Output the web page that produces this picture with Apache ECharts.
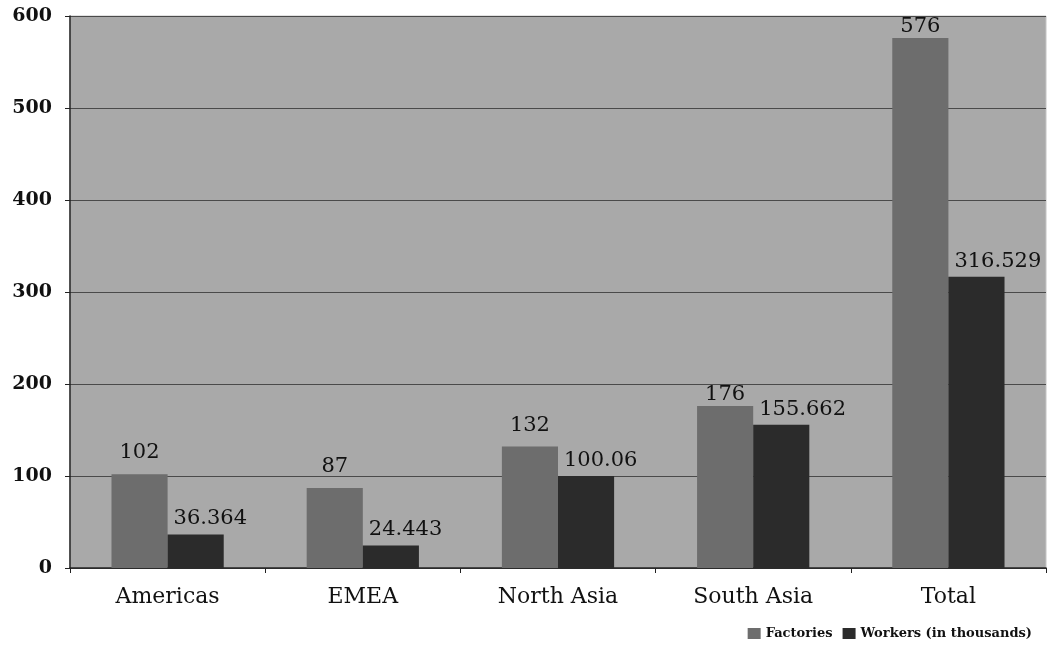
<!DOCTYPE html>
<html>
<head>
<meta charset="utf-8">
<script src="https://cdn.jsdelivr.net/npm/echarts@6/dist/echarts.min.js"></script>
<style>
html,body{margin:0;padding:0;background:#fff;}
#chart{width:1047px;height:648px;}
</style>
</head>
<body>
<div id="chart"></div>
<script>
const categories = ['Americas', 'EMEA', 'North Asia', 'South Asia', 'Total'];
const factories = [102, 87, 132, 176, 576];
const workers = [36.364, 24.443, 100.06, 155.662, 316.529];
const yTicks = [0, 100, 200, 300, 400, 500, 600];

const serif = '"DejaVu Serif", "Liberation Serif", serif';
const chart = echarts.init(document.getElementById('chart'));

const baseLabel = {
  show: true,
  color: '#111',
  fontFamily: serif,
  fontSize: 21
};

// Factory labels sit higher above the bar, except where they hug the bar top
const tightLabels = ['South Asia', 'Total'];
const factoryData = factories.map((v, i) => (
  tightLabels.includes(categories[i])
    ? { value: v, label: { distance: 1 } }
    : v
));

chart.setOption({
  animation: false,
  textStyle: { fontFamily: serif },
  grid: {
    left: 70, right: 1, top: 16, bottom: 80,
    show: true,
    backgroundColor: '#a9a9a9',
    borderColor: '#c4c4c4',
    borderWidth: 1
  },
  legend: {
    right: 10, bottom: 3,
    itemWidth: 13, itemHeight: 11, itemGap: 10,
    icon: 'rect',
    textStyle: { fontFamily: serif, fontSize: 13, fontWeight: 'bold', color: '#111' },
    data: ['Factories', 'Workers (in thousands)']
  },
  xAxis: {
    type: 'category',
    data: categories,
    axisLine: { show: true, lineStyle: { color: '#222', width: 1.5 } },
    axisTick: { show: true, length: 5, lineStyle: { color: '#222' } },
    axisLabel: { color: '#111', fontFamily: serif, fontSize: 22, margin: 18 }
  },
  yAxis: {
    type: 'value',
    min: yTicks[0], max: yTicks[yTicks.length - 1], interval: 100,
    axisLine: { show: true, lineStyle: { color: '#222', width: 1.5 } },
    axisTick: { show: true, length: 5, lineStyle: { color: '#222' } },
    axisLabel: { color: '#111', fontFamily: serif, fontSize: 19, margin: 18, fontWeight: 'bold' },
    splitLine: { show: true, lineStyle: { color: '#4a4a4a', width: 1 } }
  },
  series: [
    {
      name: 'Factories',
      type: 'bar',
      data: factoryData,
      barGap: '0%',
      barCategoryGap: '42.5%',
      itemStyle: { color: '#6d6d6d' },
      label: Object.assign({}, baseLabel, { position: 'top', distance: 11 })
    },
    {
      name: 'Workers (in thousands)',
      type: 'bar',
      data: workers,
      itemStyle: { color: '#2b2b2b' },
      // value text starts just inside the bar's left edge
      label: Object.assign({}, baseLabel, {
        position: [6, -5],
        align: 'left',
        verticalAlign: 'bottom'
      })
    }
  ]
});
</script>
</body>
</html>
